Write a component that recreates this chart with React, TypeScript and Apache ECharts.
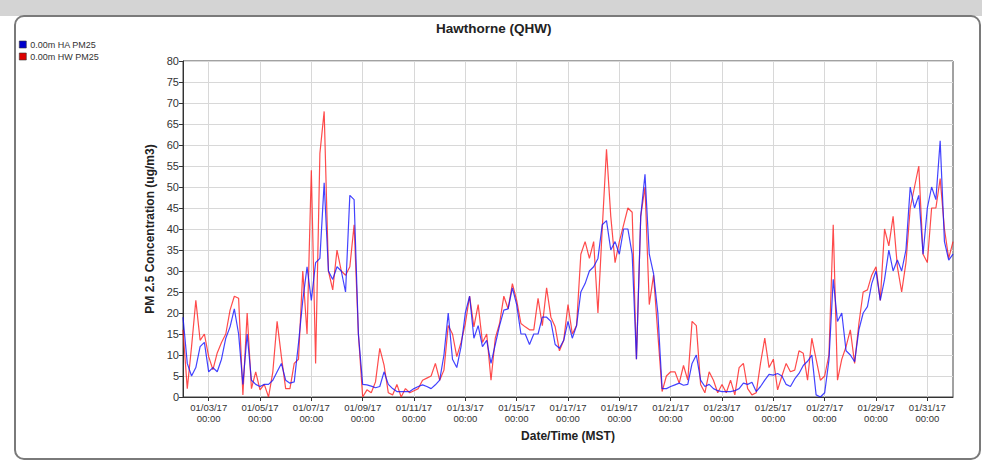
import React, { useEffect, useRef } from "react";
import * as echarts from "echarts";

// Time base: 01/02/17 00:00 MST, one value every 4 hours
const START_UTC = Date.UTC(2017, 0, 2, 0, 0);
const STEP_HOURS = 4;

const SERIES_NAMES = ["0.00m HA PM25", "0.00m HW PM25"];

const HA_PM25 = [
  19, 8, 5, 7, 12, 13, 6, 7, 6, 9,
  14, 16.7, 21, 15, 3, 15, 4, 3, 2.5, 3,
  3, 4, 6, 8, 4, 3.3, 3.6, 12.8, 23, 31,
  23, 32, 33, 51, 30, 28, 31, 30, 25, 48,
  47, 15, 3, 2.9, 2.6, 2.2, 2.5, 6, 3, 2,
  1.3, 1.3, 1.3, 1.3, 2, 2.5, 2.9, 2.5, 2, 2.9,
  4, 10, 20, 9, 7, 12, 20, 24, 14, 17,
  12, 13.5, 8, 12.5, 17, 20.7, 21, 26, 22, 15,
  15, 12.5, 15, 15, 19, 19, 18, 12.5, 11.6, 13.5,
  18, 14, 17, 25, 27, 30, 31, 33, 41, 42,
  35, 37, 34, 40, 40, 34, 9, 43, 53, 34,
  29.4, 20, 2, 2, 2.5, 2.9, 3.3, 2.8, 3, 8,
  10, 4, 2.5, 3, 2, 1.5, 1.3, 1.3, 1.3, 1.5,
  2, 3.3, 3, 3.5, 1.3, 2.5, 4, 5.4, 5.2, 5.6,
  5, 3, 2.5, 4.3, 5.6, 7.5, 8.5, 10, 0.5, 0,
  1, 8.8, 28, 18, 20, 11, 10, 8.4, 16, 20,
  21.5, 27, 30, 23, 28, 35, 30, 32.6, 30, 35,
  50, 45, 48, 34, 45, 50, 47, 61, 37, 32.6, 34,
];

const HW_PM25 = [
  16, 2, 12, 23, 13.5, 15, 9.6, 6.5, 10.5, 13,
  15, 20.7, 24, 23.5, 0.5, 20, 2, 6, 1.7, 3,
  0, 6, 18, 9.6, 2, 2, 8, 9, 30, 15,
  54, 8, 58, 68, 30, 25.5, 35, 30, 29, 31,
  41, 15, 0, 1.7, 1, 3.6, 11.6, 7.6, 1, 0.5,
  3, 0, 2, 1, 1.5, 2, 4, 4.5, 5, 8,
  4, 6.4, 17, 15, 9.6, 13, 17.5, 24, 16.7, 22,
  13, 15, 4, 14, 17.5, 24, 21, 27, 23, 17.5,
  16.7, 16, 16, 23.5, 17, 26, 19, 16.7, 11, 13.5,
  22, 15, 17, 34, 37, 33, 37, 20, 40, 59,
  43, 32, 37, 41, 45, 44, 9, 43, 50, 22,
  29, 15, 1.3, 5, 6, 6, 3.3, 7.5, 4, 18,
  17, 3, 1, 6, 4, 1, 3, 1, 4, 0.5,
  7, 8, 2, 0.5, 1, 8, 14, 7, 9, 1.7,
  5, 8, 6, 6.4, 11, 10.4, 4, 14, 9, 4,
  5, 10, 41, 4, 9, 12, 16, 8, 17.5, 25,
  25.5, 29, 31, 23, 40, 36, 43, 31, 25, 32,
  45, 50, 55, 34, 32, 45, 45, 52, 40, 33, 37,
];

// Ticks every 2 days starting 01/03/17 00:00 (index 6 with 4-hour steps)
const TICK_EVERY = 12;
const TICK_OFFSET = 6;

const Y_MIN = 0;
const Y_MAX = 80;
const Y_STEP = 5;

const pad = (n: number) => (n < 10 ? "0" + n : "" + n);
const CATEGORIES = HA_PM25.map((_, i) => {
  const d = new Date(START_UTC + i * STEP_HOURS * 3600 * 1000);
  return (
    pad(d.getUTCMonth() + 1) + "/" + pad(d.getUTCDate()) + "/" + pad(d.getUTCFullYear() % 100) +
    "\n" + pad(d.getUTCHours()) + ":" + pad(d.getUTCMinutes())
  );
});

const FONT = "'Liberation Sans', Arial, Helvetica, sans-serif";
const isTick = (i: number) => i % TICK_EVERY === TICK_OFFSET;

export default function App() {
  const ref = useRef<HTMLDivElement>(null);
  useEffect(() => {
    if (!ref.current) return;
    const chart = echarts.init(ref.current, undefined, { renderer: "svg" });
    chart.setOption({
      animation: false,
      textStyle: { fontFamily: FONT },
      title: {
        text: "Hawthorne (QHW)",
        left: 436,
        top: 21,
        padding: 0,
        textStyle: { fontSize: 13.5, fontWeight: "bold", color: "#222", fontFamily: FONT },
      },
      legend: {
        orient: "vertical",
        left: 19,
        top: 40,
        padding: 0,
        itemWidth: 7,
        itemHeight: 7,
        itemGap: 3,
        icon: "rect",
        data: SERIES_NAMES,
        textStyle: { fontSize: 9, color: "#333", padding: [0, 0, 0, -1], fontFamily: FONT },
        itemStyle: { borderColor: "#333", borderWidth: 0.6 },
      },
      grid: {
        left: 183,
        right: 29,
        top: 61,
        bottom: 63,
        show: true,
        borderColor: "#444",
        borderWidth: 1,
        backgroundColor: "transparent",
      },
      xAxis: {
        type: "category",
        data: CATEGORIES,
        boundaryGap: false,
        name: "Date/Time (MST)",
        nameLocation: "middle",
        nameGap: 33,
        nameTextStyle: { fontSize: 12, fontWeight: "bold", color: "#222", fontFamily: FONT },
        axisLine: { lineStyle: { color: "#333", width: 1 } },
        axisTick: { show: true, interval: (i: number) => isTick(i), length: 4, lineStyle: { color: "#333" } },
        axisLabel: {
          interval: (i: number) => isTick(i),
          fontSize: 9.5,
          color: "#333",
          lineHeight: 11,
          margin: 5,
          fontFamily: FONT,
        },
        splitLine: { show: true, interval: (i: number) => isTick(i), lineStyle: { color: "#d8d8d8", width: 1 } },
      },
      yAxis: {
        type: "value",
        min: Y_MIN,
        max: Y_MAX,
        interval: Y_STEP,
        name: "PM 2.5 Concentration (ug/m3)",
        nameLocation: "middle",
        nameGap: 25,
        nameTextStyle: { fontSize: 12, fontWeight: "bold", color: "#222", fontFamily: FONT },
        axisLine: { show: true, lineStyle: { color: "#333", width: 1 } },
        axisTick: { show: true, length: 4, lineStyle: { color: "#333" } },
        axisLabel: { fontSize: 11, color: "#333", margin: 4, fontFamily: FONT },
        splitLine: { show: true, lineStyle: { color: "#d8d8d8", width: 1 } },
      },
      series: [
        {
          name: SERIES_NAMES[0],
          type: "line",
          data: HA_PM25,
          showSymbol: false,
          symbol: "none",
          z: 3,
          itemStyle: { color: "#0000cc" },
          lineStyle: { color: "rgba(20,20,255,0.8)", width: 1.2 },
        },
        {
          name: SERIES_NAMES[1],
          type: "line",
          data: HW_PM25,
          showSymbol: false,
          symbol: "none",
          z: 2,
          itemStyle: { color: "#dd0000" },
          lineStyle: { color: "rgba(255,30,30,0.8)", width: 1.2 },
        },
      ],
    });
    return () => chart.dispose();
  }, []);

  return (
    <div
      style={{
        position: "fixed",
        left: 0,
        top: 0,
        width: 982,
        height: 460,
        background: "#ffffff",
        overflow: "hidden",
      }}
    >
      <div style={{ position: "absolute", left: 0, top: 0, width: 982, height: 16, background: "#d4d4d4" }} />
      <div
        style={{
          position: "absolute",
          left: 14,
          top: 15,
          width: 963,
          height: 441,
          border: "2px solid #7a7a7a",
          borderRadius: 10,
          background: "#ffffff",
        }}
      />
      <div ref={ref} style={{ position: "absolute", left: 0, top: 0, width: 982, height: 460 }} />
    </div>
  );
}
